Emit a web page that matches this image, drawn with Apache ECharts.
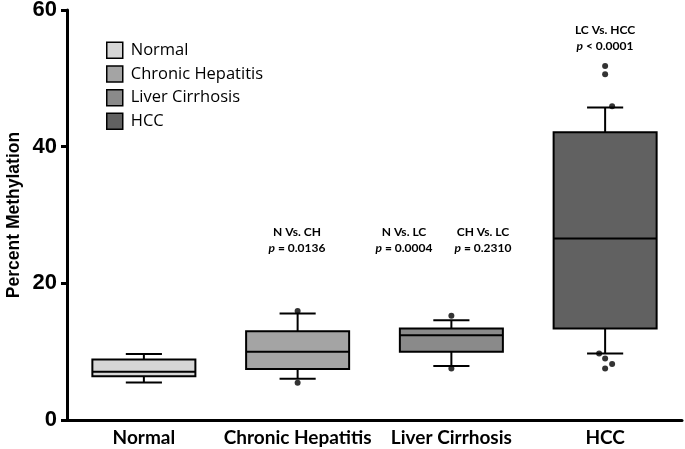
<!DOCTYPE html>
<html><head><meta charset="utf-8">
<script src="https://cdn.jsdelivr.net/npm/echarts@6/dist/echarts.min.js"></script>
<style>html,body{margin:0;padding:0;background:#fff}#c{width:685px;height:449px}</style>
</head><body><div id="c"></div>
<script>
// ---- data ----
const categories = ['Normal', 'Chronic Hepatitis', 'Liver Cirrhosis', 'HCC'];
// [lower whisker, Q1, median, Q3, upper whisker]
const normalBox = [5.5, 6.4, 7.05, 8.85, 9.65];
const chBox = [6.05, 7.45, 10.0, 13.0, 15.6];
const lcBox = [7.9, 10.0, 12.4, 13.4, 14.6];
const hccBox = [9.75, 13.4, 26.55, 42.1, 45.75];
const normalDots = [];
const chDots = [15.95, 5.45];
const lcDots = [15.25, 7.55];
const hccDots = [51.8, 50.6, 45.9, 9.75, 9.0, 8.2, 7.55];
const yTicks = [0, 20, 40, 60];
const comparisons = [
  ['N Vs. CH', 'p = 0.0136'],
  ['N Vs. LC', 'p = 0.0004'],
  ['CH Vs. LC', 'p = 0.2310'],
  ['LC Vs. HCC', 'p < 0.0001']
];

// ---- styles ----
const fills = ['#d6d6d6', '#a4a4a4', '#8a8a8a', '#616161'];
const hccJitter = [0, 0, 7, -6, 0, 7, 0];
const boxes = [normalBox, chBox, lcBox, hccBox];
const dots = [normalDots, chDots, lcDots, hccDots];

const chart = echarts.init(document.getElementById('c'), null, {renderer: 'canvas'});

function renderBox(params, api) {
  const c = api.value(0);
  const lo = api.coord([c, api.value(1)]);
  const q1 = api.coord([c, api.value(2)]);
  const md = api.coord([c, api.value(3)]);
  const q3 = api.coord([c, api.value(4)]);
  const hi = api.coord([c, api.value(5)]);
  const band = api.size([1, 0])[0];
  const bw = band * 0.67;
  const cw = band * 0.235;
  const x = lo[0];
  const ln = {stroke: '#000', lineWidth: 2};
  return {
    type: 'group',
    children: [
      {type: 'line', shape: {x1: x, y1: q3[1], x2: x, y2: hi[1]}, style: ln},
      {type: 'line', shape: {x1: x, y1: q1[1], x2: x, y2: lo[1]}, style: ln},
      {type: 'line', shape: {x1: x - cw / 2, y1: hi[1], x2: x + cw / 2, y2: hi[1]}, style: ln},
      {type: 'line', shape: {x1: x - cw / 2, y1: lo[1], x2: x + cw / 2, y2: lo[1]}, style: ln},
      {type: 'rect', shape: {x: x - bw / 2, y: q3[1], width: bw, height: q1[1] - q3[1]},
       style: {fill: api.visual('color'), stroke: '#000', lineWidth: 2}},
      {type: 'line', shape: {x1: x - bw / 2, y1: md[1], x2: x + bw / 2, y2: md[1]}, style: ln}
    ]
  };
}

const series = categories.map((name, i) => ({
  name: name,
  type: 'custom',
  renderItem: renderBox,
  itemStyle: {color: fills[i], borderColor: '#000', borderWidth: 1.5},
  encode: {x: 0, y: [1, 2, 3, 4, 5]},
  data: [[i].concat(boxes[i])],
  z: 2
}));

const dotData = [];
dots.forEach((arr, i) => arr.forEach((v, k) => {
  dotData.push({value: [i, v], symbolOffset: [i === 3 ? hccJitter[k] : 0, 0]});
}));
series.push({
  type: 'scatter', name: 'dots', data: dotData, symbolSize: 6,
  itemStyle: {color: '#000'}, z: 5, silent: true
});

const annFont = 'Lato';
const annPos = [[297, 226], [404, 226], [483, 226], [605, 24]];
const graphic = [];
comparisons.forEach((cmp, i) => {
  const [cx, cy] = annPos[i];
  graphic.push({
    type: 'text', x: cx, y: cy,
    style: {text: cmp[0], font: 'bold 12px ' + annFont, fill: '#000', align: 'center', verticalAlign: 'top'}
  });
  const rest = cmp[1].slice(1);
  graphic.push({
    type: 'text', x: cx, y: cy + 16,
    style: {
      text: '{i|p}{n|' + rest + '}', align: 'center', verticalAlign: 'top', fill: '#000',
      font: 'bold 12px ' + annFont,
      rich: {
        i: {fontStyle: 'italic', fontWeight: 'bold', fontSize: 12, fontFamily: annFont, fill: '#000'},
        n: {fontWeight: 'bold', fontSize: 12, fontFamily: annFont, fill: '#000'}
      }
    }
  });
});

chart.setOption({
  animation: false,
  backgroundColor: '#fff',
  grid: {left: 67, right: 3, top: 10, bottom: 29, outerBoundsMode: 'none', containLabel: false},
  legend: {
    orient: 'vertical', left: 106, top: 41.5, padding: 0, itemWidth: 16, itemHeight: 16, itemGap: 6.2,
    icon: 'rect',
    data: categories.map((n, i) => ({name: n, itemStyle: {color: fills[i], borderColor: '#000', borderWidth: 1.5}})),
    textStyle: {fontFamily: 'Open Sans', fontSize: 16.5, lineHeight: 16, color: '#000', padding: [0, 0, 0, 3]},
    selectedMode: false
  },
  xAxis: {
    type: 'category', data: categories, boundaryGap: true,
    axisLine: {lineStyle: {color: '#000', width: 3}},
    axisTick: {show: false},
    axisLabel: {color: '#000', fontFamily: 'Lato', fontWeight: 'bold', fontSize: 19, margin: 8, interval: 0}
  },
  yAxis: {
    type: 'value', min: yTicks[0], max: yTicks[yTicks.length - 1], interval: yTicks[1] - yTicks[0],
    name: 'Percent Methylation', nameLocation: 'middle', nameGap: 44, nameMoveOverlap: false,
    nameTextStyle: {color: '#000', fontFamily: 'Liberation Sans', fontWeight: 'bold', fontSize: 17.5},
    axisLine: {show: true, lineStyle: {color: '#000', width: 3}},
    axisTick: {show: true, length: 6, lineStyle: {color: '#000', width: 3}},
    axisLabel: {color: '#000', fontFamily: 'Liberation Sans', fontWeight: 'bold', fontSize: 22, margin: 10},
    splitLine: {show: false}
  },
  graphic: graphic,
  series: series
});
</script>
</body></html>
